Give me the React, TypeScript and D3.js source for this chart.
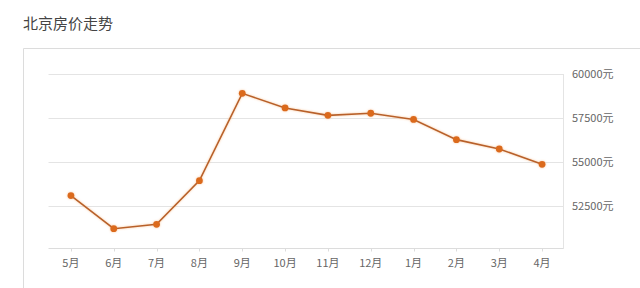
import React, { useEffect, useRef } from "react";
import * as d3 from "d3";

const title = "北京房价走势";
const months = ["5月", "6月", "7月", "8月", "9月", "10月", "11月", "12月", "1月", "2月", "3月", "4月"];
const prices = [53090, 51210, 51460, 53940, 58900, 58070, 57650, 57770, 57420, 56270, 55740, 54870];
const yTicks = [60000, 57500, 55000, 52500];
const yDomain = [50000, 60000];

const W = 640;
const H = 288;
const plot = { left: 48.5, right: 563, top: 74, bottom: 250 };

export default function App() {
  const ref = useRef<SVGSVGElement | null>(null);

  useEffect(() => {
    const svg = d3.select(ref.current);
    svg.selectAll("*").remove();

    const font = "'Noto Sans CJK SC', 'Noto Sans', sans-serif";

    const defs = svg.append("defs");
    const f = defs.append("filter").attr("id", "glow").attr("x", "-10%").attr("y", "-10%").attr("width", "120%").attr("height", "120%");
    f.append("feGaussianBlur").attr("in", "SourceAlpha").attr("stdDeviation", 1.2).attr("result", "b");
    f.append("feFlood").attr("flood-color", "#f5a25a").attr("flood-opacity", 0.6);
    f.append("feComposite").attr("in2", "b").attr("operator", "in").attr("result", "g");
    const m = f.append("feMerge");
    m.append("feMergeNode").attr("in", "g");
    m.append("feMergeNode").attr("in", "SourceGraphic");

    svg.append("rect").attr("width", W).attr("height", H).attr("fill", "#fff");

    svg.append("text")
      .attr("x", 23)
      .attr("y", 29)
      .attr("font-family", font)
      .attr("font-size", 15)
      .attr("fill", "#444")
      .text(title);

    // container box
    svg.append("path")
      .attr("d", `M23.5,${H + 2} V48.5 H${W + 2}`)
      .attr("fill", "none")
      .attr("stroke", "#dcdcdc")
      .attr("stroke-width", 1);

    const x = d3.scalePoint<string>().domain(months).range([plot.left + 1, plot.right + 0.5]).padding(0.5);
    const y = d3.scaleLinear().domain(yDomain).range([plot.bottom, plot.top]);

    // grid lines
    const gridG = svg.append("g");
    yTicks.forEach((t) => {
      gridG.append("line")
        .attr("x1", plot.left).attr("x2", plot.right)
        .attr("y1", Math.round(y(t)) + 0.5).attr("y2", Math.round(y(t)) + 0.5)
        .attr("stroke", "#e4e4e4");
    });

    // right axis line
    svg.append("line")
      .attr("x1", plot.right + 0.5).attr("x2", plot.right + 0.5)
      .attr("y1", plot.top).attr("y2", plot.bottom - 1)
      .attr("stroke", "#e4e4e4");

    // y labels
    yTicks.forEach((t) => {
      svg.append("text")
        .attr("x", 572)
        .attr("y", y(t))
        .attr("dy", "0.35em")
        .attr("font-family", font)
        .attr("font-size", 11)
        .attr("fill", "#666")
        .text(`${t}元`);
    });

    // x axis
    const axisY = Math.round(plot.bottom) - 1.5;
    svg.append("line")
      .attr("x1", plot.left).attr("x2", plot.right)
      .attr("y1", axisY).attr("y2", axisY)
      .attr("stroke", "#dcdcdc");
    months.forEach((mo) => {
      const cx = Math.round(x(mo)!) + 0.5;
      svg.append("line")
        .attr("x1", cx).attr("x2", cx)
        .attr("y1", axisY).attr("y2", axisY + 3)
        .attr("stroke", "#dcdcdc");
      svg.append("text")
        .attr("x", x(mo)!)
        .attr("y", 263)
        .attr("dy", "0.35em")
        .attr("text-anchor", "middle")
        .attr("font-family", font)
        .attr("font-size", 11)
        .attr("fill", "#666")
        .text(mo);
    });

    const data = months.map((mo, i) => ({ mo, v: prices[i] }));
    const line = d3.line<{ mo: string; v: number }>().x((d) => x(d.mo)!).y((d) => y(d.v));

    const series = svg.append("g").attr("filter", "url(#glow)");
    series.append("path")
      .attr("d", line(data)!)
      .attr("fill", "none")
      .attr("stroke", "#b8612c")
      .attr("stroke-width", 1.6);
    series.selectAll("circle")
      .data(data)
      .enter()
      .append("circle")
      .attr("cx", (d) => x(d.mo)!)
      .attr("cy", (d) => y(d.v))
      .attr("r", 3.4)
      .attr("fill", "#db6a1e");
  }, []);

  return (
    <svg
      ref={ref}
      width={W}
      height={H}
      style={{ position: "absolute", left: 0, top: 0, display: "block" }}
    />
  );
}
